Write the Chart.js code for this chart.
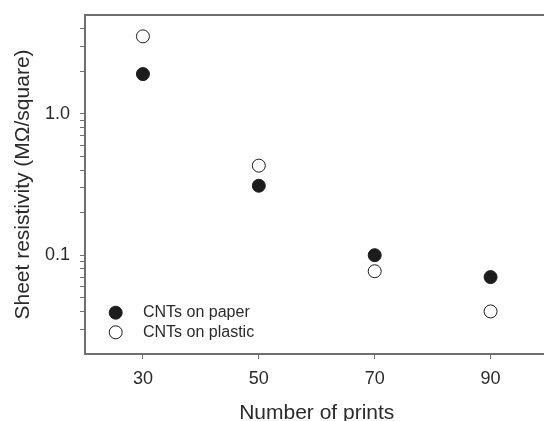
<html>
<head>
<meta charset="UTF-8">
<script src="https://cdn.jsdelivr.net/npm/chart.js@4.4.1/dist/chart.umd.min.js"></script>
<style>
html, body { margin: 0; padding: 0; background: #fff; overflow: hidden; }
#wrap { width: 556px; height: 426px; }
</style>
</head>
<body>
<div id="wrap"><canvas id="res" width="556" height="426"></canvas></div>

<script>
// number of prints
var prints = [30, 50, 70, 90];
// sheet resistivity, MOhm/square
var paperVals = [1.91, 0.31, 0.10, 0.07];
var plasticVals = [3.53, 0.43, 0.077, 0.04];
var seriesNames = ['CNTs on paper', 'CNTs on plastic'];

var xTicks = [30, 50, 70, 90];
var yMajorTicks = [0.1, 1];
var yMajorLabels = ['0.1', '1.0'];
var yMinorTicks = [0.03, 0.04, 0.05, 0.06, 0.07, 0.08, 0.09,
                   0.2, 0.3, 0.4, 0.5, 0.6, 0.7, 0.8, 0.9, 2, 3, 4];

var axisGray = '#6e6e6e';
var textCol = '#2a2a2a';
var font = "'Liberation Sans', Arial, sans-serif";

function pts(vals){
	var out = [];
	for (var i = 0; i < prints.length; i++) out.push({x: prints[i], y: vals[i]});
	return out;
}

// top frame line + legend inside lower left of plot
var frameLegend = {
	id: 'frameLegend',
	afterDraw: function(chart){
		var c = chart.ctx, a = chart.chartArea;
		c.save();
		c.strokeStyle = axisGray;
		c.lineWidth = 2;
		c.beginPath();
		c.moveTo(a.left - 1, a.top);
		c.lineTo(a.right, a.top);
		c.stroke();

		var rows = [312.7, 332.3];
		c.font = '16px ' + font;
		c.textBaseline = 'middle';
		chart.data.datasets.forEach(function(ds, i){
			c.beginPath();
			c.arc(a.left + 30.7, rows[i], 6.5, 0, Math.PI * 2);
			c.fillStyle = ds.backgroundColor;
			c.fill();
			c.lineWidth = 1;
			c.strokeStyle = ds.borderColor;
			c.stroke();
			c.fillStyle = textCol;
			c.fillText(ds.label, a.left + 58, rows[i]);
		});
		c.restore();
	}
};

var ctx = document.getElementById('res').getContext('2d');
var chart = new Chart(ctx, {
	type: 'scatter',
	data: {
		datasets: [{
			label: seriesNames[0],
			data: pts(paperVals),
			backgroundColor: '#1c1c1c',
			borderColor: '#1c1c1c',
			borderWidth: 1,
			pointRadius: 6.5,
			pointHoverRadius: 6.5
		}, {
			label: seriesNames[1],
			data: pts(plasticVals),
			backgroundColor: '#ffffff',
			borderColor: '#1c1c1c',
			borderWidth: 1,
			pointRadius: 6.5,
			pointHoverRadius: 6.5
		}]
	},
	options: {
		responsive: false,
		animation: false,
		layout: { padding: { top: 15, right: 0, left: 0, bottom: 0 } },
		plugins: {
			legend: { display: false },
			tooltip: { enabled: false }
		},
		scales: {
			x: {
				type: 'linear',
				min: 20,
				max: 100,
				afterBuildTicks: function(s){ s.ticks = xTicks.map(function(v){ return {value: v}; }); },
				afterFit: function(s){ s.height = 72; s.paddingLeft = 0; s.paddingRight = 0; },
				ticks: {
					autoSkip: false,
					maxRotation: 0,
					padding: 9,
					color: textCol,
					font: { family: font, size: 18 }
				},
				grid: { drawOnChartArea: false, drawTicks: true, tickLength: 5, color: axisGray, lineWidth: 1 },
				border: { display: true, color: axisGray, width: 2 },
				title: {
					display: true,
					text: 'Number of prints',
					color: textCol,
					font: { family: font, size: 21 },
					padding: { top: 0, bottom: 0 }
				}
			},
			y: {
				type: 'logarithmic',
				min: 0.02,
				max: 5,
				afterBuildTicks: function(s){
					var all = yMajorTicks.concat(yMinorTicks).sort(function(a, b){ return a - b; });
					s.ticks = all.map(function(v){ return {value: v}; });
				},
				afterFit: function(s){ s.width = 85; s.paddingTop = 0; s.paddingBottom = 0; },
				ticks: {
					autoSkip: false,
					padding: 10,
					color: textCol,
					font: { family: font, size: 18 },
					callback: function(v){
						for (var i = 0; i < yMajorTicks.length; i++)
							if (Math.abs(v - yMajorTicks[i]) < 1e-9) return yMajorLabels[i];
						return '';
					}
				},
				grid: { drawOnChartArea: false, drawTicks: true, tickLength: 5, color: axisGray, lineWidth: 1 },
				border: { display: true, color: axisGray, width: 2 },
				title: {
					display: true,
					text: 'Sheet resistivity (MΩ/square)',
					color: textCol,
					font: { family: font, size: 21 },
					padding: { top: 11, bottom: 0 }
				}
			}
		}
	},
	plugins: [frameLegend]
});
</script>
</body>
</html>
